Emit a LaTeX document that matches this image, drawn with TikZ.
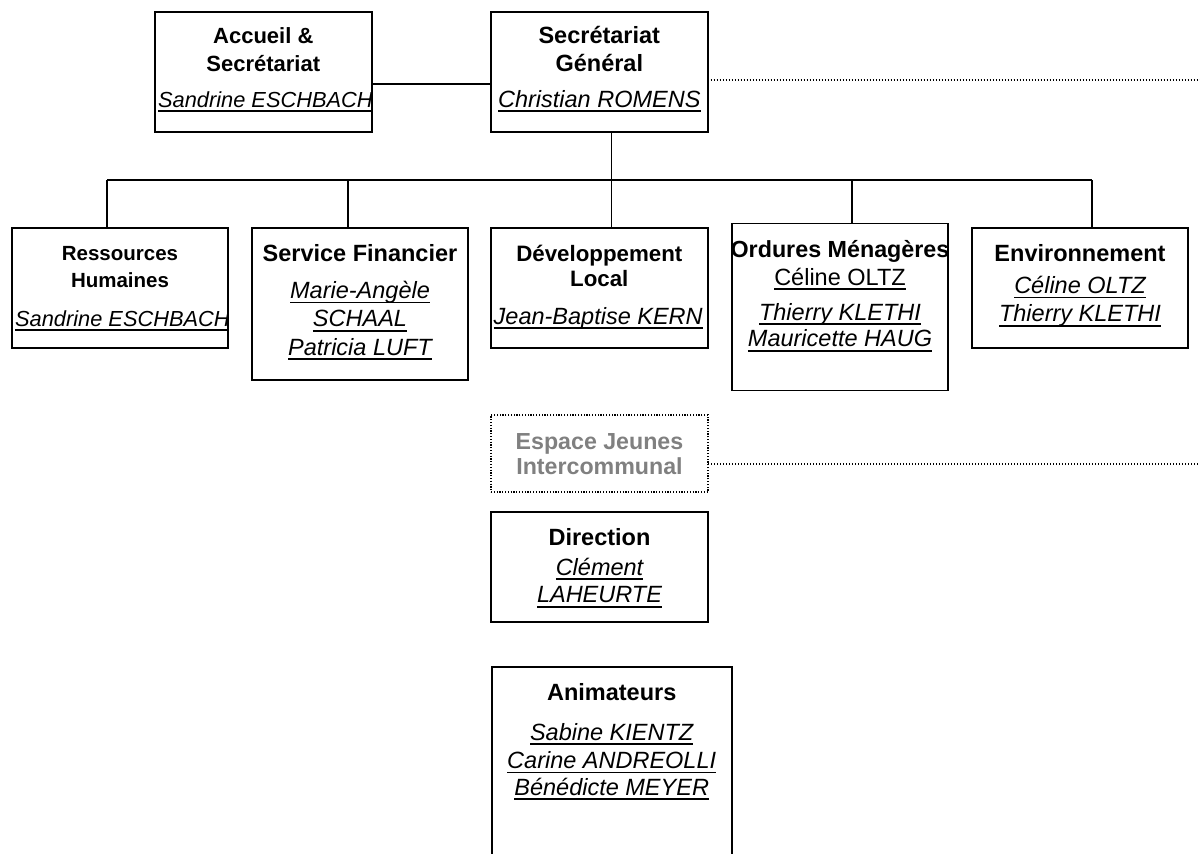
\documentclass[tikz,border=0pt]{standalone}
\usepackage{fontspec}
\setmainfont{Liberation Sans}
\newsavebox\ulbox
\newcommand\ulx[1]{\sbox\ulbox{#1}\rlap{\rule[-5pt]{\wd\ulbox}{1.6pt}}\usebox\ulbox}
\newcommand\fsz[1]{\fontsize{#1}{#1}\selectfont}
\definecolor{ejgray}{HTML}{808080}
\begin{document}
\begin{tikzpicture}[x=1pt,y=-1pt,
  box/.style={draw=black, line width=1.9pt, inner sep=0pt, outer sep=0pt, anchor=north west},
  ejbox/.style={draw=black, line width=1.2pt, dash pattern=on 1.2pt off 1.6pt, inner sep=0pt, outer sep=0pt, anchor=north west},
  conn/.style={line width=1.8pt},
  dotl/.style={line width=1.2pt, dash pattern=on 1.2pt off 1.8pt},
  ttl/.style={anchor=base, inner sep=0pt, font=\fsz{23.5}\bfseries},
  nm/.style={anchor=base, inner sep=0pt, font=\fsz{23.5}\itshape},
  nmr/.style={anchor=base, inner sep=0pt, font=\fsz{23.5}}]
\useasboundingbox (0,0) rectangle (1200,854);

% boxes
\node[box, minimum width=216.7pt, minimum height=120pt] (acc) at (155,12) {};
\node[box, minimum width=216.7pt, minimum height=120pt] (sg) at (491,12) {};
\node[box, minimum width=216pt, minimum height=120pt] (rh) at (12,228) {};
\node[box, minimum width=216pt, minimum height=152pt] (sf) at (252,228) {};
\node[box, minimum width=216.7pt, minimum height=120pt] (dl) at (491,228) {};
\node[box, minimum width=216.7pt, minimum height=167pt] (om) at (731.7,223.5) {};
\node[box, minimum width=216.7pt, minimum height=120pt] (env) at (971.7,228) {};
\node[ejbox, minimum width=217pt, minimum height=77pt] (ej) at (491,415) {};
\node[box, minimum width=216.7pt, minimum height=110pt] (dir) at (491,512) {};
\node[box, minimum width=240pt, minimum height=230pt] (ani) at (491.7,667) {};

% connectors
\coordinate (edgeA) at (1200,80);
\coordinate (edgeB) at (1200,464);
\coordinate (jsg) at (611.5,180);
\coordinate (j1) at (107.3,180);
\coordinate (j2) at (347.7,180);
\coordinate (j4) at (851.7,180);
\coordinate (j5) at (1091.7,180);
\draw[conn] ([yshift=-12pt]acc.east) -- ([yshift=-12pt]sg.west);
\draw[dotl] ([yshift=-8pt]sg.east) -- (edgeA);
\draw[dotl] ([yshift=-10.5pt]ej.east) -- (edgeB);
\draw[conn] (sg.south -| jsg) -- (jsg);
\draw[conn] (j1) -- (j5);
\draw[conn] (j1) -- (rh.north -| j1);
\draw[conn] (j2) -- (sf.north -| j2);
\draw[conn] (jsg) -- (dl.north -| jsg);
\draw[conn] (j4) -- (om.north -| j4);
\draw[conn] (j5) -- (env.north -| j5);

% Accueil & Secretariat
\node[ttl, font=\fsz{22}\bfseries] (acc1) at (263.3,43.3) {Accueil \&};
\node[ttl, font=\fsz{22}\bfseries] (acc2) at (263.3,71.7) {Secrétariat};
\begin{scope}
  \clip (acc.north west) rectangle (acc.south east);
  \node[nm, anchor=base west, font=\fsz{21.8}\itshape] (acc3) at (158,107) {\ulx{Sandrine ESCHBACH}};
\end{scope}

% Secretariat General
\node[ttl] (sg1) at (599.3,43.3) {Secrétariat};
\node[ttl] (sg2) at (599.3,71.7) {Général};
\node[nm] (sg3) at (599.3,107) {\ulx{Christian ROMENS}};

% Ressources Humaines
\node[ttl, font=\fsz{20.5}\bfseries] (rh1) at (120,260.7) {Ressources};
\node[ttl, font=\fsz{20.5}\bfseries] (rh2) at (120,287.3) {Humaines};
\begin{scope}
  \clip (rh.north west) rectangle (rh.south east);
  \node[nm, anchor=base west, font=\fsz{21.8}\itshape] (rh3) at (15,326) {\ulx{Sandrine ESCHBACH}};
\end{scope}

% Service Financier
\node[ttl] (sf1) at (360,261.7) {Service Financier};
\node[nm] (sf2) at (360,298.3) {\ulx{Marie-Angèle}};
\node[nm] (sf3) at (360,326.7) {\ulx{SCHAAL}};
\node[nm] (sf4) at (360,355) {\ulx{Patricia LUFT}};

% Developpement Local
\node[ttl, font=\fsz{22.3}\bfseries] (dl1) at (599.3,261.7) {Développement};
\node[ttl, font=\fsz{22.3}\bfseries] (dl2) at (599.3,286.7) {Local};
\begin{scope}
  \clip (dl.north west) rectangle (dl.south east);
  \node[nm, anchor=base west] (dl3) at (493.5,324) {\ulx{Jean-Baptise KERN}};
\end{scope}

% Ordures Menageres
\node[ttl, font=\fsz{23.3}\bfseries] (om1) at (840,257.3) {Ordures Ménagères};
\node[nmr] (om2) at (840,285) {\ulx{Céline OLTZ}};
\node[nm] (om3) at (840,320) {\ulx{Thierry KLETHI}};
\node[nm] (om4) at (840,346.7) {\ulx{Mauricette HAUG}};

% Environnement
\node[ttl] (env1) at (1080,261.7) {Environnement};
\node[nm] (env2) at (1080,293.3) {\ulx{Céline OLTZ}};
\node[nm] (env3) at (1080,321.7) {\ulx{Thierry KLETHI}};

% Espace Jeunes
\node[ttl, text=ejgray, font=\fsz{23.2}\bfseries] (ej1) at (599.5,449.5) {Espace Jeunes};
\node[ttl, text=ejgray, font=\fsz{23.2}\bfseries] (ej2) at (599.5,474.5) {Intercommunal};

% Direction
\node[ttl] (dir1) at (599.5,545) {Direction};
\node[nm] (dir2) at (599.5,575) {\ulx{Clément}};
\node[nm] (dir3) at (599.5,602.7) {\ulx{LAHEURTE}};

% Animateurs
\node[ttl] (ani1) at (611.7,700) {Animateurs};
\node[nm] (ani2) at (611.7,740) {\ulx{Sabine KIENTZ}};
\node[nm] (ani3) at (611.7,768.3) {\ulx{Carine ANDREOLLI}};
\node[nm] (ani4) at (611.7,795) {\ulx{Bénédicte MEYER}};
\end{tikzpicture}
\end{document}
